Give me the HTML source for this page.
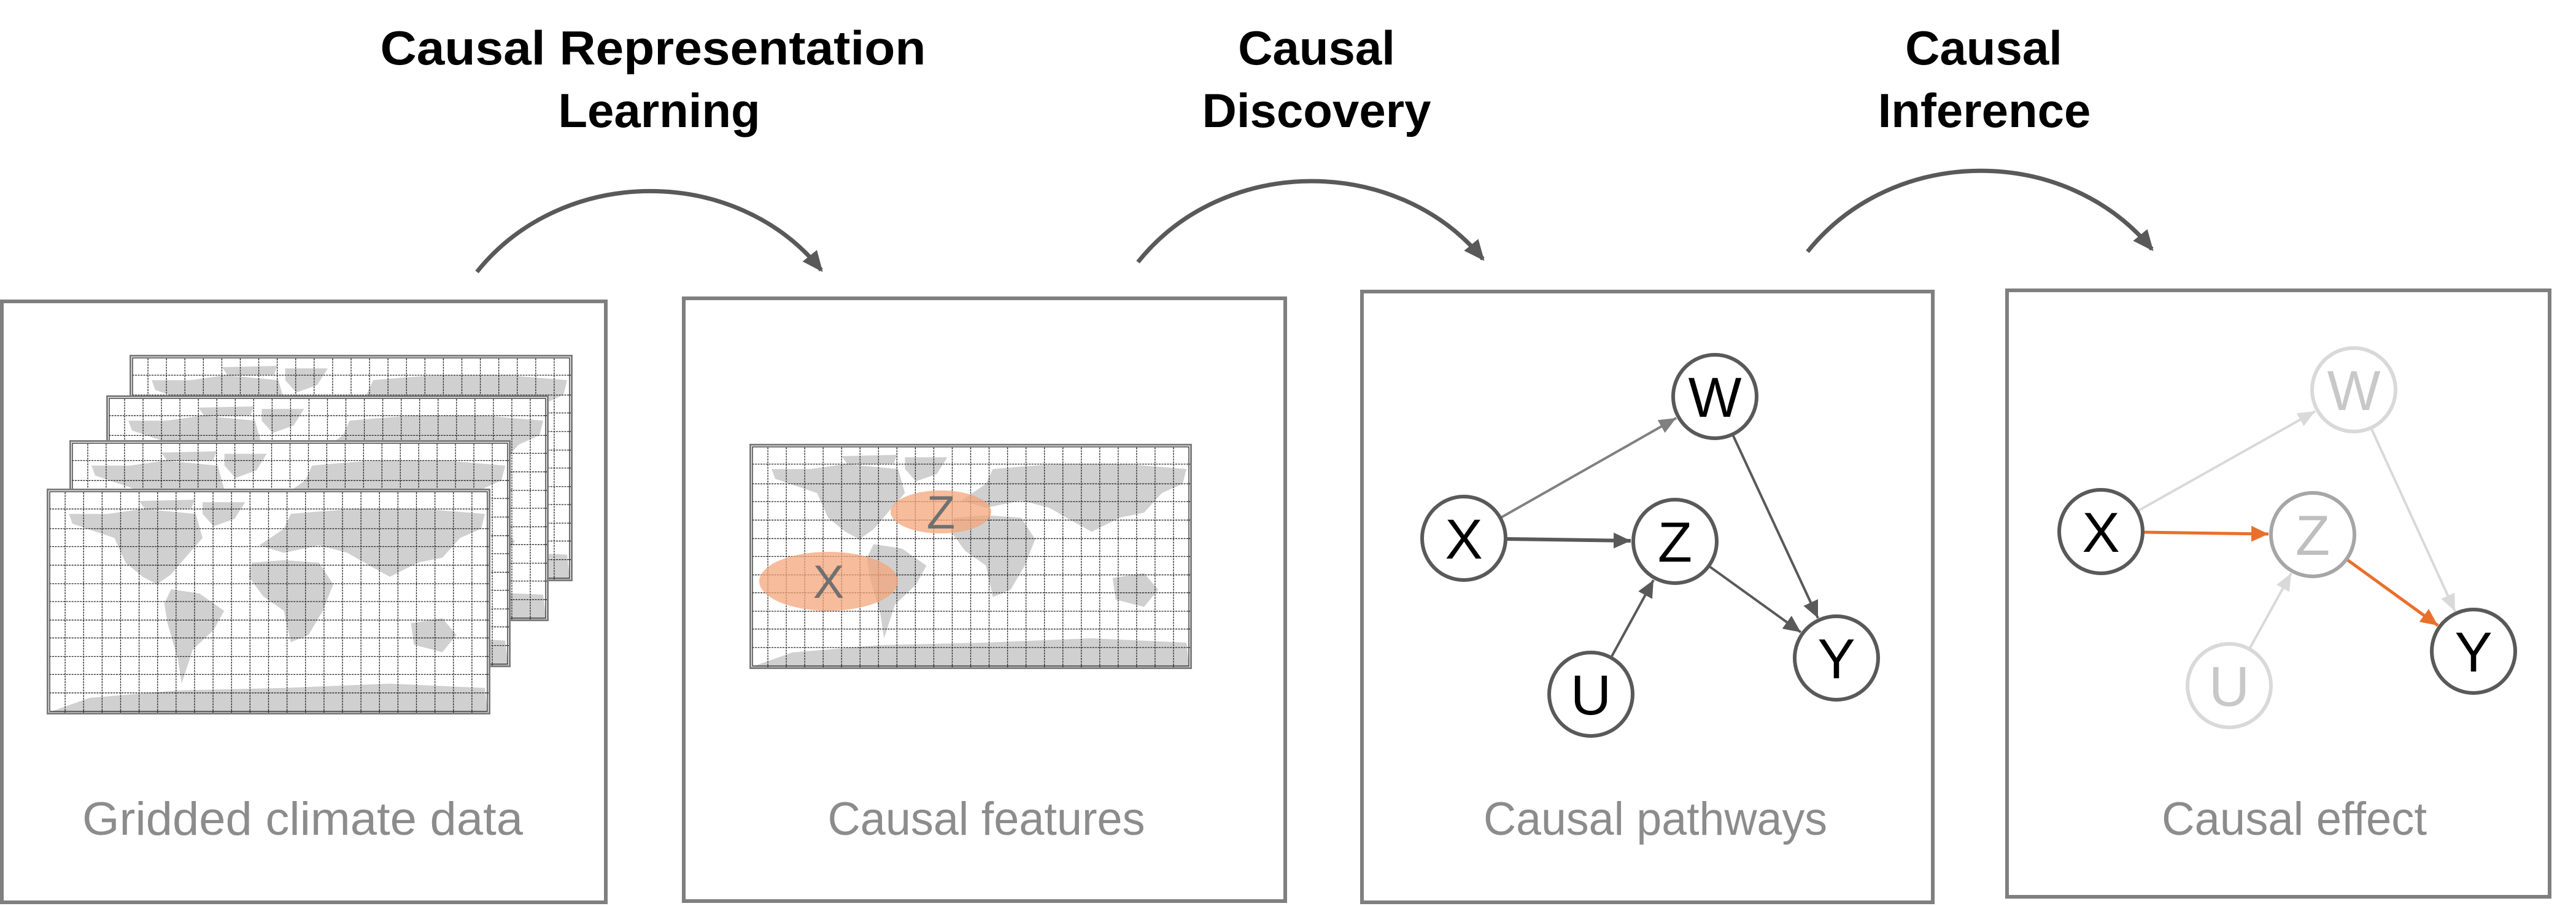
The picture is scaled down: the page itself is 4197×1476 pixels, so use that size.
<!DOCTYPE html>
<html><head><meta charset="utf-8"><style>
html,body{margin:0;padding:0;background:#fff;}
svg{display:block;}
</style></head><body>
<svg width="4197" height="1476" viewBox="0 0 4197 1476" xmlns="http://www.w3.org/2000/svg">
<defs>
<symbol id="map" viewBox="0 0 720 366" preserveAspectRatio="none">
<rect x="0" y="0" width="720" height="366" fill="#fff"/>
<g fill="#d0d0d0">
<path d="M36,41 L99,41 L156,33 L242,41 L253,80 L225,112 L202,139 L179,155 L156,143 L128,120 L110,80 L42,57 Z"/>
<path d="M253,22 L322,22 L305,49 L271,61 L253,41 Z"/>
<path d="M150,20 L240,18 L235,32 L160,34 Z"/>
<path d="M202,163 L248,170 L288,198 L271,229 L237,261 L219,316 L213,276 L196,218 L191,186 Z"/>
<path d="M345,92 L385,65 L396,41 L442,37 L499,33 L614,33 L711,41 L705,65 L671,80 L642,112 L602,120 L557,143 L528,127 L488,104 L442,92 L385,104 Z"/>
<path d="M333,120 L385,116 L442,120 L465,155 L448,198 L425,237 L396,249 L385,198 L351,174 L328,143 Z"/>
<path d="M591,218 L642,210 L665,237 L642,265 L596,253 Z"/>
<path d="M70,339 L213,327 L385,323 L556,316 L711,323 L716,363 L2,363 Z"/>
</g>
<g stroke="#222" stroke-width="1.3" stroke-dasharray="3,1.5">
<line x1="30" y1="6" x2="30" y2="366"/><line x1="60" y1="6" x2="60" y2="366"/><line x1="90" y1="6" x2="90" y2="366"/><line x1="120" y1="6" x2="120" y2="366"/><line x1="150" y1="6" x2="150" y2="366"/><line x1="180" y1="6" x2="180" y2="366"/><line x1="210" y1="6" x2="210" y2="366"/><line x1="240" y1="6" x2="240" y2="366"/><line x1="270" y1="6" x2="270" y2="366"/><line x1="300" y1="6" x2="300" y2="366"/><line x1="330" y1="6" x2="330" y2="366"/><line x1="360" y1="6" x2="360" y2="366"/><line x1="390" y1="6" x2="390" y2="366"/><line x1="420" y1="6" x2="420" y2="366"/><line x1="450" y1="6" x2="450" y2="366"/><line x1="480" y1="6" x2="480" y2="366"/><line x1="510" y1="6" x2="510" y2="366"/><line x1="540" y1="6" x2="540" y2="366"/><line x1="570" y1="6" x2="570" y2="366"/><line x1="600" y1="6" x2="600" y2="366"/><line x1="630" y1="6" x2="630" y2="366"/><line x1="660" y1="6" x2="660" y2="366"/><line x1="690" y1="6" x2="690" y2="366"/>
<line x1="0" y1="33" x2="720" y2="33"/><line x1="0" y1="65" x2="720" y2="65"/><line x1="0" y1="94" x2="720" y2="94"/><line x1="0" y1="124" x2="720" y2="124"/><line x1="0" y1="154" x2="720" y2="154"/><line x1="0" y1="183" x2="720" y2="183"/><line x1="0" y1="213" x2="720" y2="213"/><line x1="0" y1="242" x2="720" y2="242"/><line x1="0" y1="272" x2="720" y2="272"/><line x1="0" y1="301" x2="720" y2="301"/><line x1="0" y1="331" x2="720" y2="331"/>
</g>
<rect x="1.5" y="1.5" width="717" height="363" fill="none" stroke="#7f7f7f" stroke-width="3"/>
<rect x="5" y="5" width="710" height="356" fill="none" stroke="#111" stroke-width="1.2"/>
</symbol>
<marker id="aD" markerUnits="userSpaceOnUse" markerWidth="28" markerHeight="26" refX="28" refY="13" orient="auto"><path d="M0,0 L28,13 L0,26 Z" fill="#595959"/></marker>
<marker id="aG" markerUnits="userSpaceOnUse" markerWidth="28" markerHeight="24" refX="28" refY="12" orient="auto"><path d="M0,0 L28,12 L0,24 Z" fill="#808080"/></marker>
<marker id="aL" markerUnits="userSpaceOnUse" markerWidth="28" markerHeight="24" refX="28" refY="12" orient="auto"><path d="M0,0 L28,12 L0,24 Z" fill="#d9d9d9"/></marker>
<marker id="aO" markerUnits="userSpaceOnUse" markerWidth="28" markerHeight="26" refX="28" refY="13" orient="auto"><path d="M0,0 L28,13 L0,26 Z" fill="#e8702a"/></marker>
<marker id="aA" markerUnits="userSpaceOnUse" markerWidth="34" markerHeight="30" refX="30" refY="15" orient="auto"><path d="M0,0 L34,15 L0,30 Z" fill="#595959"/></marker>
</defs>

<g font-family="Liberation Sans, sans-serif" font-weight="bold" font-size="78" fill="#000" text-anchor="middle">
<text x="1064" y="105" textLength="889" lengthAdjust="spacingAndGlyphs">Causal Representation</text>
<text x="1074" y="207">Learning</text>
<text x="2145" y="105">Causal</text>
<text x="2145" y="207">Discovery</text>
<text x="3232" y="105">Causal</text>
<text x="3233" y="207">Inference</text>
</g>

<g fill="none" stroke="#595959" stroke-width="7">
<path d="M777,443 C917,268 1200,268 1338,440" marker-end="url(#aA)"/>
<path d="M1854,427 C1994,252 2276,252 2416,422" marker-end="url(#aA)"/>
<path d="M2945,410 C3085,235 3366,235 3506,406" marker-end="url(#aA)"/>
</g>

<g fill="none" stroke="#7f7f7f" stroke-width="6">
<rect x="3" y="491" width="984" height="979"/>
<rect x="1114" y="486" width="980" height="982"/>
<rect x="2219" y="475" width="930" height="995"/>
<rect x="3270" y="473" width="884" height="988"/>
</g>

<use href="#map" x="211" y="578" width="722" height="369"/>
<use href="#map" x="173" y="644" width="721" height="368"/>
<use href="#map" x="113" y="717" width="719" height="370"/>
<use href="#map" x="76" y="796" width="723" height="368"/>

<use href="#map" x="1221" y="723" width="721" height="367"/>
<ellipse cx="1533" cy="834" rx="82" ry="35" fill="#f4a57a" fill-opacity="0.75"/>
<ellipse cx="1350" cy="947" rx="113" ry="48" fill="#f4a57a" fill-opacity="0.75"/>
<g font-family="Liberation Sans, sans-serif" font-size="76" fill="#707070" text-anchor="middle">
<text x="1533" y="861">Z</text>
<text x="1350" y="974">X</text>
</g>

<g fill="none">
<line x1="2444" y1="844" x2="2731" y2="681" stroke="#808080" stroke-width="4" marker-end="url(#aG)"/>
<line x1="2453" y1="878" x2="2657" y2="881" stroke="#595959" stroke-width="6" marker-end="url(#aD)"/>
<line x1="2625" y1="1071" x2="2694" y2="945" stroke="#595959" stroke-width="4" marker-end="url(#aD)"/>
<line x1="2823" y1="708" x2="2962" y2="1007" stroke="#595959" stroke-width="4" marker-end="url(#aD)"/>
<line x1="2784" y1="922" x2="2934" y2="1030" stroke="#595959" stroke-width="4" marker-end="url(#aD)"/>
</g>
<g fill="#fff" stroke="#595959" stroke-width="6">
<circle cx="2794" cy="646" r="68"/>
<circle cx="2385" cy="877" r="68"/>
<circle cx="2729" cy="882" r="68"/>
<circle cx="2592" cy="1131" r="68"/>
<circle cx="2992" cy="1072" r="68"/>
</g>
<g font-family="Liberation Sans, sans-serif" font-size="92" fill="#000" text-anchor="middle">
<text x="2794" y="679">W</text>
<text x="2385" y="910">X</text>
<text x="2729" y="915">Z</text>
<text x="2592" y="1164">U</text>
<text x="2992" y="1105">Y</text>
</g>

<g fill="none">
<line x1="3482" y1="833" x2="3772" y2="670" stroke="#d9d9d9" stroke-width="4" marker-end="url(#aL)"/>
<line x1="3665" y1="1057" x2="3733" y2="934" stroke="#d9d9d9" stroke-width="4" marker-end="url(#aL)"/>
<line x1="3863" y1="697" x2="4000" y2="996" stroke="#d9d9d9" stroke-width="4" marker-end="url(#aL)"/>
<line x1="3491" y1="867" x2="3696" y2="870" stroke="#e8702a" stroke-width="5" marker-end="url(#aO)"/>
<line x1="3823" y1="911" x2="3972" y2="1019" stroke="#e8702a" stroke-width="5" marker-end="url(#aO)"/>
</g>
<g fill="#fff" stroke-width="6">
<circle cx="3835" cy="635" r="68" stroke="#d9d9d9"/>
<circle cx="3423" cy="866" r="68" stroke="#595959"/>
<circle cx="3768" cy="871" r="68" stroke="#a6a6a6"/>
<circle cx="3632" cy="1117" r="68" stroke="#d9d9d9"/>
<circle cx="4030" cy="1061" r="68" stroke="#595959"/>
</g>
<g font-family="Liberation Sans, sans-serif" font-size="92" text-anchor="middle">
<text x="3835" y="668" fill="#c8c8c8">W</text>
<text x="3423" y="899" fill="#000">X</text>
<text x="3768" y="904" fill="#bfbfbf">Z</text>
<text x="3632" y="1150" fill="#c8c8c8">U</text>
<text x="4030" y="1094" fill="#000">Y</text>
</g>

<g font-family="Liberation Sans, sans-serif" font-size="76" fill="#8c8c8c" text-anchor="middle">
<text x="493" y="1360" textLength="718" lengthAdjust="spacingAndGlyphs">Gridded climate data</text>
<text x="1607" y="1360" textLength="517" lengthAdjust="spacingAndGlyphs">Causal features</text>
<text x="2697" y="1360" textLength="560" lengthAdjust="spacingAndGlyphs">Causal pathways</text>
<text x="3738" y="1360" textLength="432" lengthAdjust="spacingAndGlyphs">Causal effect</text>
</g>
</svg>
</body></html>
